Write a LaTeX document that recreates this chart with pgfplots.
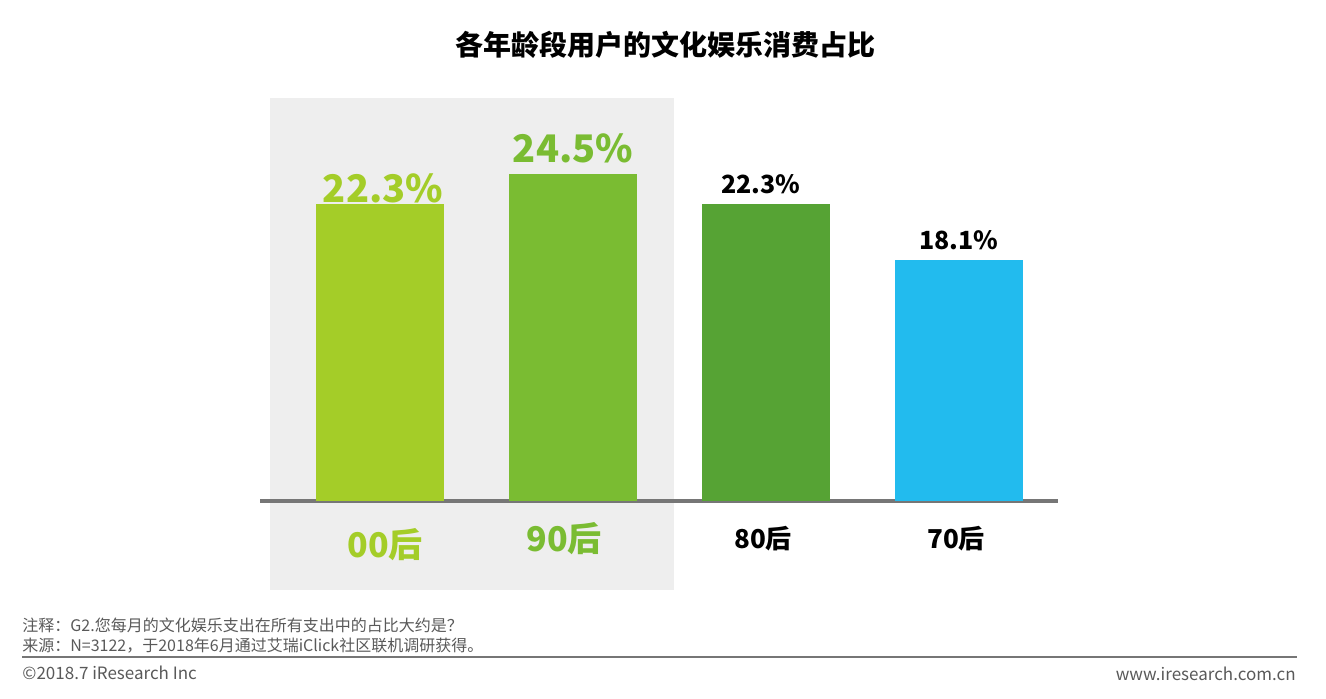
\documentclass[border=0pt]{standalone}
\usepackage{pgfplots}
\pgfplotsset{compat=1.18}
\usepackage{fontspec}
\setmainfont{Noto Sans CJK SC}
\definecolor{cA}{HTML}{A4CD28}
\definecolor{cB}{HTML}{7ABC32}
\definecolor{cC}{HTML}{56A334}
\definecolor{cD}{HTML}{22BBEE}
\definecolor{bg}{HTML}{EEEEEE}
\definecolor{ax}{HTML}{767676}
\definecolor{ft}{HTML}{595959}
\begin{document}
\begin{tikzpicture}
\path[use as bounding box] (0,0) rectangle (663pt,349pt);
\fill[bg] (135pt,54pt) rectangle (337pt,300pt);
\node[font=\fontsize{14}{16}\selectfont\bfseries] at (332.5pt,326.5pt) {各年龄段用户的文化娱乐消费占比};
\begin{axis}[at={(130pt,98.5pt)}, anchor=south west, scale only axis,
 width=399pt, height=201.5pt,
 xmin=-0.622, xmax=3.513, ymin=0, ymax=30.23,
 axis x line=bottom, axis y line=none,
 x axis line style={-, line width=2pt, draw=ax},
 ytick=\empty, xtick={0,1,2,3}, major tick length=0pt,
 xticklabels={
  {\raisebox{-4.5pt}{\color{cA}\fontsize{17}{17}\selectfont\bfseries\hspace*{5pt}00后}},
  {\raisebox{-1.5pt}{\color{cB}\fontsize{17}{17}\selectfont\bfseries 90后\hspace*{9pt}}},
  {\color{black}\fontsize{13}{13}\selectfont\bfseries 80后\hspace*{3pt}},
  {\color{black}\fontsize{13}{13}\selectfont\bfseries 70后\hspace*{3pt}}},
 xticklabel style={anchor=base, yshift=-23.5pt},
 ybar, bar width=64pt, bar shift=0pt,
 /pgf/number format/assume math mode=true,
 clip=false,
 nodes near coords={\pgfmathprintnumber[fixed,precision=1,fixed zerofill]{\pgfplotspointmeta}\%},
 every node near coord/.append style={anchor=base, inner sep=0pt}
]
\addplot[fill=cA, draw=none, bar shift=0pt, every node near coord/.append style={text=cA, font=\fontsize{19}{19}\selectfont\bfseries, yshift=0.5pt, xshift=1.5pt}] coordinates {(0,22.3)};
\addplot[fill=cB, draw=none, bar shift=0pt, every node near coord/.append style={text=cB, font=\fontsize{19}{19}\selectfont\bfseries, yshift=6pt}] coordinates {(1,24.5)};
\addplot[fill=cC, draw=none, bar shift=0pt, every node near coord/.append style={text=black, font=\fontsize{12.5}{12.5}\selectfont\bfseries, yshift=5pt, xshift=-2.5pt}] coordinates {(2,22.3)};
\addplot[fill=cD, draw=none, bar shift=0pt, every node near coord/.append style={text=black, font=\fontsize{12.5}{12.5}\selectfont\bfseries, yshift=5pt}] coordinates {(3,18.1)};
\end{axis}
\node[anchor=base west, text=ft, font=\fontsize{8}{8}\selectfont, inner sep=0pt] at (11pt,33.5pt) {注释：G2.您每月的文化娱乐支出在所有支出中的占比大约是？};
\node[anchor=base west, text=ft, font=\fontsize{8}{8}\selectfont, inner sep=0pt] at (11pt,23.5pt) {来源：N=3122，于2018年6月通过艾瑞iClick社区联机调研获得。};
\draw[ax, line width=1pt] (11pt,20.5pt) -- (648.5pt,20.5pt);
\node[anchor=base west, text=ft, font=\fontsize{8.5}{8.5}\selectfont, inner sep=0pt] at (11pt,9.5pt) {©2018.7 iResearch Inc};
\node[anchor=base east, text=ft, font=\fontsize{8.5}{8.5}\selectfont, inner sep=0pt] at (648pt,9pt) {www.iresearch.com.cn};
\end{tikzpicture}
\end{document}
